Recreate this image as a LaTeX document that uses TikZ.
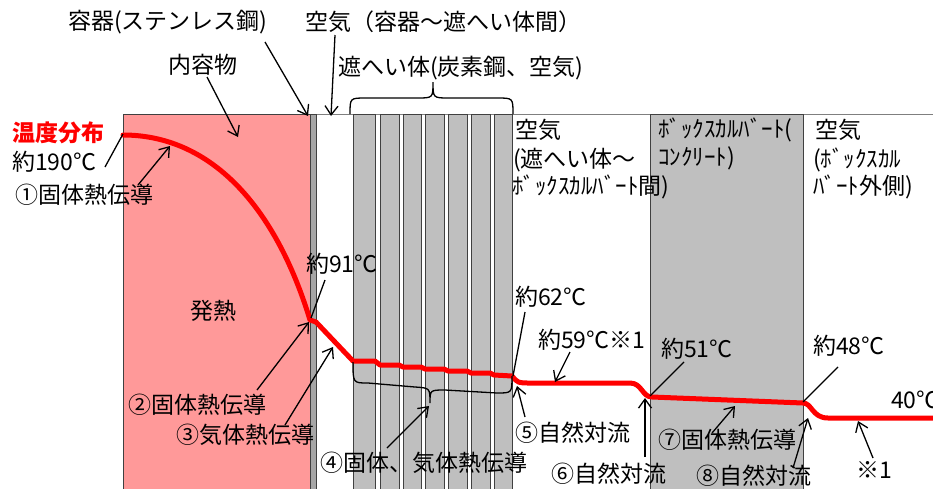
\documentclass[tikz,border=0pt]{standalone}
\usepackage{fontspec}
\setmainfont{Noto Sans CJK JP}
\usetikzlibrary{arrows.meta}
\definecolor{pinkfill}{HTML}{FF9999}
\definecolor{grayfill}{HTML}{BFBFBF}
\definecolor{edgegray}{HTML}{404040}
\definecolor{topgray}{HTML}{7F7F7F}
\tikzset{
  lbl/.style={inner sep=0pt, anchor=west, font=\fontsize{23}{27}\selectfont},
  clbl/.style={inner sep=0pt, font=\fontsize{23}{27}\selectfont},
  conn/.style={line width=1.3pt, black},
  arr/.style={conn, -{Straight Barb[length=9pt,width=13pt,line width=1.3pt]}},
  region/.style={draw=edgegray, line width=0.9pt},
  stripe/.style={region, fill=grayfill},
  tcurve/.style={red, line width=5pt, line join=round, line cap=round},
  brace/.style={line width=1.3pt, black}
}
\begin{document}
\begin{tikzpicture}[x=1pt,y=-1pt]
\useasboundingbox (0,0) rectangle (933,488);
% regions
\draw[topgray, line width=1pt] (123,114) -- (933,114);
\draw[region, fill=pinkfill] (123,500) -- (123,114) -- (310,114) -- (310,500);
\draw[region, fill=gray!70] (310,500) -- (310,114) -- (316,114) -- (316,500);
\foreach \a/\b in {353/375,380/399,403/421,425/444,448/467,471/490,494/512}{
  \draw[stripe] (\a,500) -- (\a,114) -- (\b,114) -- (\b,500);
}
\draw[stripe] (650,500) -- (650,114) -- (803,114) -- (803,500);

% temperature curve
\draw[tcurve] (123,135) .. controls (210,135) and (275,205) .. (310,320)
  -- (316,322) -- (353,361) -- (375,361) -- (380,365) -- (399,365) -- (403,367)
  -- (421,367) -- (425,369) -- (444,369) -- (448,371) -- (467,371) -- (471,373)
  -- (490,373) -- (494,375) -- (512,376)
  .. controls (518,383) .. (530,383) -- (630,383)
  .. controls (642,383) and (642,397) .. (652,397)
  -- (803,403) .. controls (812,403) and (812,418) .. (828,418) -- (940,418);

% braces
\draw[brace] (350,114) .. controls (350,98) .. (366,98) -- (417,98)
  .. controls (433,98) .. (433,82) .. controls (433,98) .. (449,98)
  -- (497,98) .. controls (513,98) .. (513,114);
\draw[brace] (353,362) .. controls (353,383) .. (368,383) -- (415,387)
  .. controls (430,388) .. (430,403) .. controls (430,390) .. (445,390)
  -- (497,393) .. controls (512,393) .. (512,376);

% texts
\node[lbl, red, font=\fontsize{23}{27}\selectfont\bfseries] (tdist) at (12,133) {温度分布};
\node[lbl] (t190) at (12,162) {約190℃};
\node[lbl] (n1) at (15,195) {①固体熱伝導};
\node[lbl] (cont) at (68,22) {容器(ステンレス鋼)};
\node[clbl] (naiyo) at (203,65) {内容物};
\node[lbl] (air1) at (305,22) {空気（容器～遮へい体間）};
\node[lbl] (shield) at (338,68) {遮へい体(炭素鋼、空気)};
\node[clbl] (heat) at (213,311) {発熱};
\node[lbl] (t91) at (306,264) {約91℃};
\node[lbl] (n2) at (128,405) {②固体熱伝導};
\node[lbl] (n3) at (176,435) {③気体熱伝導};
\node[lbl] (n4) at (320,463) {④固体、気体熱伝導};
\node[lbl] (t62) at (515,297) {約62℃};
\node[lbl] (n5) at (515,433) {⑤自然対流};
\node[lbl] (t59) at (538,340) {約59℃※1};
\node[lbl] (n6) at (551,474) {⑥自然対流};
\node[lbl] (t51) at (661,349) {約51℃};
\node[lbl] (n7) at (658,440) {⑦固体熱伝導};
\node[lbl] (t48) at (813,346) {約48℃};
\node[lbl] (n8) at (696,476) {⑧自然対流};
\node[lbl] (t40) at (891,400) {40℃};
\node[lbl] (k1) at (856,470) {※1};
\node[lbl] (ra1) at (515,130) {空気};
\node[lbl] (ra2) at (513,160) {(遮へい体～};
\node[lbl] (ra3) at (512,187) {ﾎﾞｯｸｽｶﾙﾊﾞｰﾄ間)};
\node[lbl] (rb1) at (658,130) {ﾎﾞｯｸｽｶﾙﾊﾞｰﾄ(};
\node[lbl] (rb2) at (658,158) {ｺﾝｸﾘｰﾄ)};
\node[lbl] (rc1) at (815,130) {空気};
\node[lbl] (rc2) at (813,160) {(ﾎﾞｯｸｽｶﾙ};
\node[lbl] (rc3) at (813,187) {ﾊﾞｰﾄ外側)};

% connector endpoints
\coordinate (a1s) at (105,167); \coordinate (a1e) at (123,134);
\coordinate (a2s) at (138,185); \coordinate (a2e) at (170,146);
\coordinate (a3s) at (265,42);  \coordinate (a3e) at (308,116);
\coordinate (a4s) at (207,77);  \coordinate (a4e) at (238,137);
\coordinate (a5s) at (335,35);  \coordinate (a5e) at (331,116);
\coordinate (a6s) at (325,280); \coordinate (a6e) at (311,318);
\coordinate (a7s) at (257,390); \coordinate (a7e) at (309,322);
\coordinate (a8s) at (285,425); \coordinate (a8e) at (333,347);
\coordinate (a9s) at (387,448); \coordinate (a9e) at (429,406);
\coordinate (a10s) at (525,312); \coordinate (a10e) at (513,376);
\coordinate (a11s) at (525,417); \coordinate (a11e) at (517,386);
\coordinate (a12s) at (570,352); \coordinate (a12e) at (555,382);
\coordinate (a13s) at (684,362); \coordinate (a13e) at (650,396);
\coordinate (a14s) at (645,457); \coordinate (a14e) at (645,398);
\coordinate (a15s) at (712,433); \coordinate (a15e) at (735,406);
\coordinate (a16s) at (838,367); \coordinate (a16e) at (803,402);
\coordinate (a17s) at (793,468); \coordinate (a17e) at (808,418);
\coordinate (a18s) at (873,458); \coordinate (a18e) at (858,421);

\draw[conn] (a1s) -- (a1e);
\draw[arr] (a2s) -- (a2e);
\draw[arr] (a3s) -- (a3e);
\draw[arr] (a4s) -- (a4e);
\draw[arr] (a5s) -- (a5e);
\draw[conn] (a6s) -- (a6e);
\draw[arr] (a7s) -- (a7e);
\draw[arr] (a8s) -- (a8e);
\draw[arr] (a9s) -- (a9e);
\draw[conn] (a10s) -- (a10e);
\draw[arr] (a11s) -- (a11e);
\draw[arr] (a12s) -- (a12e);
\draw[conn] (a13s) -- (a13e);
\draw[arr] (a14s) -- (a14e);
\draw[arr] (a15s) -- (a15e);
\draw[conn] (a16s) -- (a16e);
\draw[arr] (a17s) -- (a17e);
\draw[arr] (a18s) -- (a18e);
\end{tikzpicture}
\end{document}
